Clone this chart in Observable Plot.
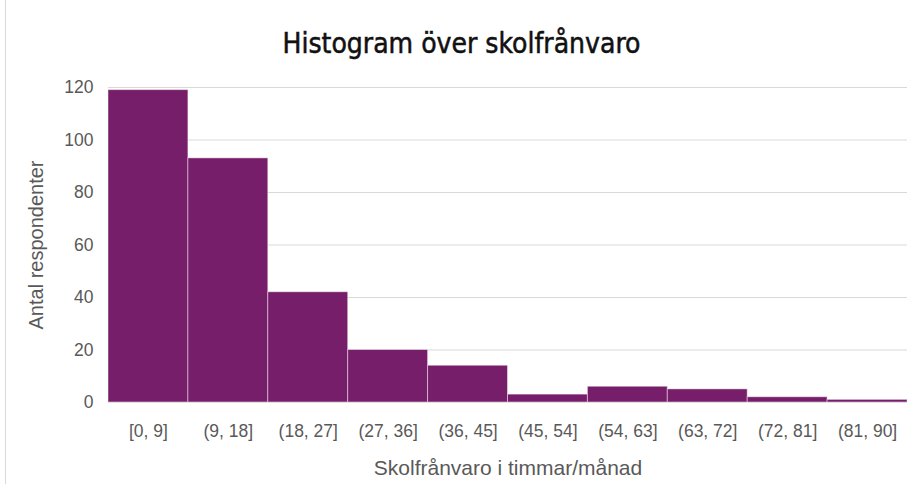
<!DOCTYPE html>
<html>
<head>
<meta charset="utf-8">
<script src="https://cdn.jsdelivr.net/npm/d3@7"></script>
<script src="https://cdn.jsdelivr.net/npm/@observablehq/plot@0.6"></script>
<style>
  html, body { margin: 0; padding: 0; background: #fff; }
  #wrap { position: relative; width: 907px; height: 484px; overflow: hidden; font-family: "Liberation Sans", Arial, sans-serif; }
  #frame { position: absolute; left: 5px; top: 0; width: 1px; height: 484px; background: #d9d9d9; }
  #title { position: absolute; left: 0; top: 0; width: 907px; height: 70px; text-align: center; padding-left: 16px; box-sizing: border-box;
           font-family: "Liberation Sans Narrow", "DejaVu Sans Condensed", sans-serif; font-size: 28px; line-height: 88px; color: #111;
           -webkit-text-stroke: 0.5px #111; }
  #chart { position: absolute; left: 0; top: 70px; }
  #chart svg text { font-size: 17.5px; font-family: "Liberation Sans", Arial, sans-serif; fill: #595959; }
  #chart svg g[aria-label="x-axis label"] text { font-size: 21px; }
  #chart svg g[aria-label="y-axis label"] text { font-size: 20px; }
</style>
</head>
<body>
<div id="wrap">
  <div id="frame"></div>
  <div id="title">Histogram över skolfrånvaro</div>
  <div id="chart"></div>
</div>
<script>
const categories = ["[0, 9]", "(9, 18]", "(18, 27]", "(27, 36]", "(36, 45]", "(45, 54]", "(54, 63]", "(63, 72]", "(72, 81]", "(81, 90]"];
const counts = [119, 93, 42, 20, 14, 3, 6, 5, 2, 1];
const yTicks = [0, 20, 40, 60, 80, 100, 120];
const xTitle = "Skolfrånvaro i timmar/månad";
const yTitle = "Antal respondenter";

const data = categories.map((c, i) => ({ bin: c, count: counts[i] }));

const chart = Plot.plot({
  width: 907,
  height: 414,
  marginLeft: 108,
  marginRight: 0,
  marginTop: 17,
  marginBottom: 82,
  style: { fontFamily: "'Liberation Sans', Arial, sans-serif", fontSize: "17px", color: "#595959", background: "transparent" },
  x: { domain: categories, padding: 0, round: false },
  y: { domain: [0, 120] },
  marks: [
    Plot.ruleY(yTicks, { stroke: "#d9d9d9", strokeWidth: 1 }),
    Plot.barY(data, { x: "bin", y: "count", fill: "#761e69", stroke: "#ffffff", strokeOpacity: 0.45, strokeWidth: 1, inset: 0 }),
    Plot.axisY({ ticks: yTicks, tickSize: 0, tickPadding: 15, label: yTitle, labelAnchor: "center", labelArrow: "none", labelOffset: 80 }),
    Plot.axisX({ tickSize: 0, tickPadding: 22, label: xTitle, labelAnchor: "center", labelArrow: "none", labelOffset: 72 })
  ]
});
document.getElementById("chart").appendChild(chart);
</script>
</body>
</html>
